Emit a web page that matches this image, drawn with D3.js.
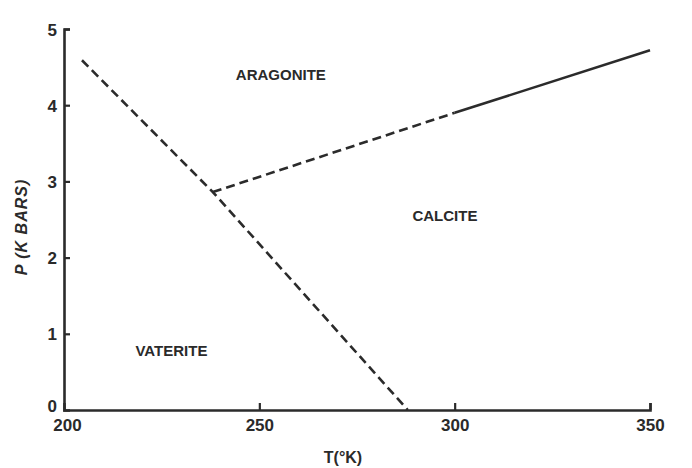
<!DOCTYPE html>
<html>
<head>
<meta charset="utf-8">
<script src="https://cdn.jsdelivr.net/npm/d3@7"></script>
<style>
  body { margin: 0; background: #fff; }
  text { font-family: "Liberation Sans", Arial, sans-serif; fill: #2a2a2a; }
</style>
</head>
<body>
<svg width="692" height="468"></svg>
<script>
// ticks
var tTicks = [200, 250, 300, 350];
var pTicks = [0, 1, 2, 3, 4, 5];

// vaterite boundary (dashed)  T, P
var vateriteT = [204.6, 238.1, 288];
var vateriteP = [4.59, 2.86, 0];

// aragonite / calcite boundary: dashed part then solid part
var dashedT = [238.1, 300];
var dashedP = [2.86, 3.9];
var solidT = [300, 350];
var solidP = [3.9, 4.72];

// phase labels
var phases = ["ARAGONITE", "CALCITE", "VATERITE"];
var phaseT = [255.5, 297.5, 227.5];
var phaseP = [4.4, 2.55, 0.78];

var svg = d3.select("svg");
var ink = "#2b2b2b";

var x = d3.scaleLinear().domain([200, 350]).range([64, 650]);
var y = d3.scaleLinear().domain([0, 5]).range([410, 29]);

var xAxis = d3.axisBottom(x).tickValues(tTicks).tickFormat(d3.format("d")).tickSize(-7).tickPadding(9);
var yAxis = d3.axisLeft(y).tickValues(pTicks).tickFormat(d3.format("d")).tickSize(-6).tickPadding(7);

var gx = svg.append("g").attr("transform", "translate(0,410)").call(xAxis);
var gy = svg.append("g").attr("transform", "translate(64,0)").call(yAxis);

[gx, gy].forEach(function (g) {
    g.select(".domain").attr("stroke", ink).attr("stroke-width", 2.6);
    g.selectAll(".tick line").attr("stroke", ink).attr("stroke-width", 2.2);
    g.selectAll(".tick text")
        .attr("fill", ink)
        .style("font-size", "17px")
        .style("font-weight", "bold")
        .style("font-family", "'Liberation Sans', Arial, sans-serif");
});
// the 0 / 200 ticks sit on the other axis line
gy.selectAll(".tick").filter(function (d) { return d === 0; }).select("line").remove();
gx.selectAll(".tick").filter(function (d) { return d === 200; }).select("line").remove();
gy.selectAll(".tick text").attr("dy", "0.36em");
// keep the 0 clear of the 200 below it
gy.selectAll(".tick").filter(function (d) { return d === 0; }).select("text").attr("dy", "0.1em");
gx.selectAll(".tick").filter(function (d) { return d === 200; }).select("text").attr("dx", "3px");

var line = d3.line()
    .x(function (d) { return x(d[0]); })
    .y(function (d) { return y(d[1]); });

svg.append("path")
    .datum(d3.zip(vateriteT, vateriteP))
    .attr("d", line)
    .attr("fill", "none")
    .attr("stroke", ink)
    .attr("stroke-width", 2.6)
    .attr("stroke-dasharray", "9,5");

svg.append("path")
    .datum(d3.zip(dashedT, dashedP))
    .attr("d", line)
    .attr("fill", "none")
    .attr("stroke", ink)
    .attr("stroke-width", 2.6)
    .attr("stroke-dasharray", "9,5");

svg.append("path")
    .datum(d3.zip(solidT, solidP))
    .attr("d", line)
    .attr("fill", "none")
    .attr("stroke", ink)
    .attr("stroke-width", 2.6);

svg.selectAll(".phase")
    .data(phases)
    .enter()
    .append("text")
    .attr("class", "phase")
    .attr("x", function (d, i) { return x(phaseT[i]); })
    .attr("y", function (d, i) { return y(phaseP[i]); })
    .attr("dy", "0.35em")
    .attr("text-anchor", "middle")
    .style("font-size", "15px")
    .style("font-weight", "bold")
    .text(function (d) { return d; });

svg.append("text")
    .attr("x", 343)
    .attr("y", 463)
    .attr("text-anchor", "middle")
    .style("font-size", "16px")
    .style("font-weight", "bold")
    .text("T(°K)");

svg.append("text")
    .attr("transform", "translate(27,227) rotate(-90)")
    .attr("text-anchor", "middle")
    .style("font-size", "16px")
    .style("font-weight", "bold")
    .style("font-style", "italic")
    .style("letter-spacing", "1px")
    .text("P (K BARS)");
</script>
</body>
</html>
